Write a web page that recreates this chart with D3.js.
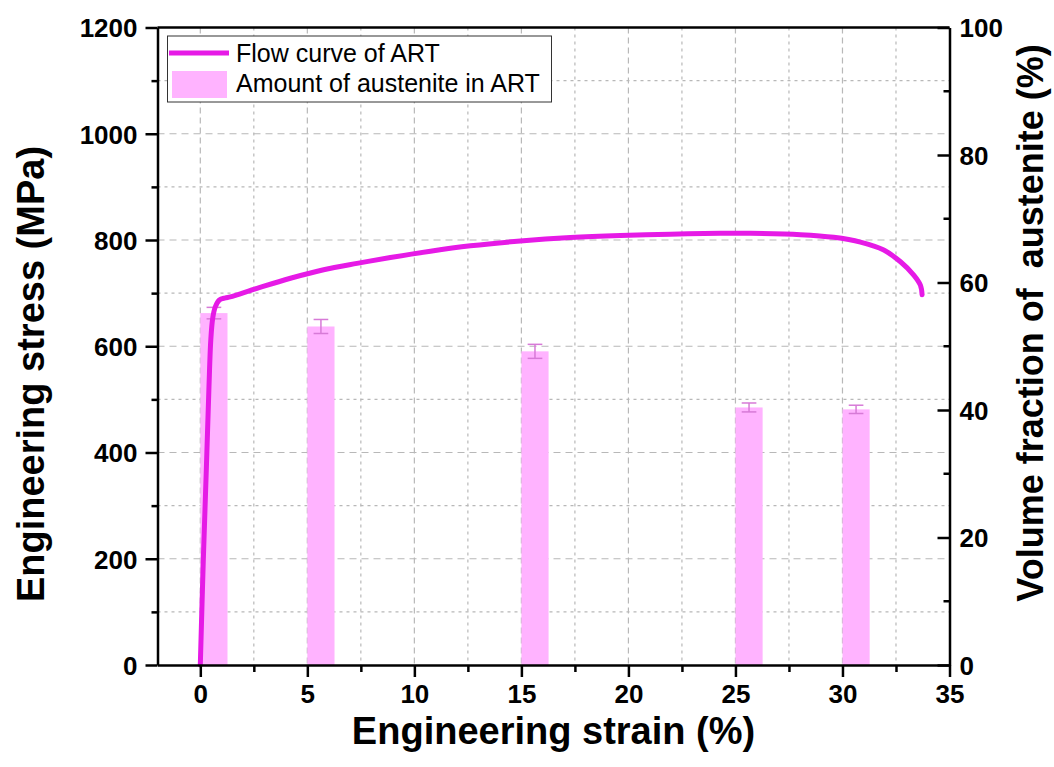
<!DOCTYPE html>
<html>
<head>
<meta charset="utf-8">
<script src="https://cdn.jsdelivr.net/npm/d3@7"></script>
<style>
  html, body { margin: 0; padding: 0; background: #fff; }
  svg { display: block; }
  text { font-family: Arial, "Liberation Sans", sans-serif; }
</style>
</head>
<body>
<svg id="chart" width="1054" height="767"></svg>
<script>
// Flow curve of the ART steel: engineering strain (%) vs engineering stress (MPa)
const flowStrain = [0, 0.14, 0.28, 0.40, 0.49, 0.58, 0.70, 0.89, 1.17, 1.40, 2.65, 4.21, 5.76, 7.32,
  8.88, 10.75, 12.62, 14.95, 17.29, 19.63, 21.96, 24.30, 25.70, 28.04, 29.59, 30.84, 31.93, 32.71,
  33.33, 33.64, 33.72];
const flowStress = [0, 198, 367, 518, 612, 653, 674, 687, 691, 693, 709, 728, 744, 756,
  767, 779, 789, 798, 804.5, 808.5, 811, 812.5, 812.5, 810, 805, 796, 781, 759,
  734, 715, 697];

// Retained austenite measured at interrupted strain levels
const austStrain = [0, 5, 15, 25, 30];
const austFraction = [55.2, 53.1, 49.2, 40.4, 40.1];
const austError = [0.9, 1.1, 1.1, 0.7, 0.65];

// Axis ticks
const xTicks = [0, 5, 10, 15, 20, 25, 30, 35];
const yLeftTicks = [0, 200, 400, 600, 800, 1000, 1200];
const yRightTicks = [0, 20, 40, 60, 80, 100];

const curveColor = "#e61ae6";
const barColor = "#ffb3ff";
const errColor = "#d77ad7";
const barWidthStrain = 1.27;

const svg = d3.select("#chart");
const m = { left: 157.5, right: 949.5, top: 27.5, bottom: 665 };

const x = d3.scaleLinear().domain([-2, 35]).range([m.left, m.right]);
const yL = d3.scaleLinear().domain([0, 1200]).range([m.bottom, m.top]);
const yR = d3.scaleLinear().domain([0, 100]).range([m.bottom, m.top]);

// Grid: major dashed, minor dotted
const grid = svg.append("g").attr("stroke", "#b8b8b8").attr("stroke-width", 1.2).attr("fill", "none");
d3.range(0, 35, 2.5).forEach(v => {
  grid.append("line")
    .attr("x1", x(v)).attr("x2", x(v)).attr("y1", m.top).attr("y2", m.bottom)
    .attr("stroke-dasharray", v % 5 === 0 ? "6,4" : "3,4");
});
d3.range(100, 1200, 100).forEach(v => {
  grid.append("line")
    .attr("x1", m.left).attr("x2", m.right).attr("y1", yL(v)).attr("y2", yL(v))
    .attr("stroke-dasharray", v % 200 === 0 ? "7,5" : "3,4");
});

// Austenite bars with error bars
const bars = svg.append("g");
bars.selectAll("rect").data(austStrain).join("rect")
  .attr("x", d => x(d))
  .attr("width", d => x(d + barWidthStrain) - x(d))
  .attr("y", (d, i) => yR(austFraction[i]))
  .attr("height", (d, i) => yR(0) - yR(austFraction[i]))
  .attr("fill", barColor);

const err = svg.append("g").attr("stroke", errColor).attr("stroke-width", 1.5);
austStrain.forEach((d, i) => {
  const cx = x(d + barWidthStrain / 2);
  const hi = yR(austFraction[i] + austError[i]);
  const lo = yR(austFraction[i] - austError[i]);
  const cap = (x(d + barWidthStrain) - x(d)) * 0.27;
  err.append("line").attr("x1", cx).attr("x2", cx).attr("y1", hi).attr("y2", lo);
  err.append("line").attr("x1", cx - cap).attr("x2", cx + cap).attr("y1", hi).attr("y2", hi);
  err.append("line").attr("x1", cx - cap).attr("x2", cx + cap).attr("y1", lo).attr("y2", lo);
});

// Flow curve
const line = d3.line()
  .x(d => x(d[0]))
  .y(d => yL(d[1]))
  .curve(d3.curveCatmullRom.alpha(0.5));
svg.append("path")
  .datum(flowStrain.map((s, i) => [s, flowStress[i]]))
  .attr("d", line)
  .attr("fill", "none")
  .attr("stroke", curveColor)
  .attr("stroke-width", 5)
  .attr("stroke-linejoin", "round")
  .attr("stroke-linecap", "round");

// Frame
const frame = svg.append("g").attr("stroke", "#000").attr("stroke-width", 2.5).attr("fill", "none");
frame.append("line").attr("x1", m.left).attr("x2", m.right).attr("y1", m.top).attr("y2", m.top);

// Axes
const tickFont = g => g.selectAll("text")
  .attr("font-size", 26).attr("font-weight", "bold").attr("fill", "#000")
  .attr("font-family", "Arial, 'Liberation Sans', sans-serif");
const axisStyle = g => {
  g.select(".domain").attr("stroke", "#000").attr("stroke-width", 2.5);
  g.selectAll(".tick line").attr("stroke", "#000").attr("stroke-width", 2.5);
};
const fmt = d3.format("d");

// bottom
const xAxis = svg.append("g").attr("transform", `translate(0,${m.bottom})`)
  .call(d3.axisBottom(x).tickValues(xTicks).tickFormat(fmt).tickSize(12).tickSizeOuter(0).tickPadding(8));
xAxis.call(axisStyle).call(tickFont);
svg.append("g").attr("transform", `translate(0,${m.bottom})`)
  .call(d3.axisBottom(x).tickValues(d3.range(2.5, 35, 5)).tickSize(7).tickFormat(""))
  .call(g => g.select(".domain").remove())
  .call(g => g.selectAll(".tick line").attr("stroke", "#000").attr("stroke-width", 2.5));

// left
const yAxisL = svg.append("g").attr("transform", `translate(${m.left},0)`)
  .call(d3.axisLeft(yL).tickValues(yLeftTicks).tickFormat(fmt).tickSize(12).tickSizeOuter(0).tickPadding(8));
yAxisL.call(axisStyle).call(tickFont);
yAxisL.selectAll(".tick text").attr("dy", "0.36em");
svg.append("g").attr("transform", `translate(${m.left},0)`)
  .call(d3.axisLeft(yL).tickValues(d3.range(100, 1200, 200)).tickSize(6).tickFormat(""))
  .call(g => g.select(".domain").remove())
  .call(g => g.selectAll(".tick line").attr("stroke", "#000").attr("stroke-width", 2.5));

// right (ticks point inward)
const yAxisR = svg.append("g").attr("transform", `translate(${m.right},0)`)
  .call(d3.axisRight(yR).tickValues(yRightTicks).tickFormat(fmt).tickSize(0).tickSizeOuter(0).tickPadding(10));
yAxisR.call(axisStyle).call(tickFont);
yAxisR.selectAll(".tick text").attr("dy", "0.36em");
yAxisR.selectAll(".tick").append("line")
  .attr("x1", 0).attr("x2", -12).attr("stroke", "#000").attr("stroke-width", 2.5);
svg.append("g").attr("transform", `translate(${m.right},0)`)
  .selectAll("line").data(d3.range(10, 100, 20)).join("line")
  .attr("x1", 0).attr("x2", -6).attr("y1", d => yR(d)).attr("y2", d => yR(d))
  .attr("stroke", "#000").attr("stroke-width", 2.5);

// Axis titles
svg.append("text")
  .attr("x", (m.left + m.right) / 2).attr("y", 744)
  .attr("text-anchor", "middle").attr("font-size", 38).attr("font-weight", "bold")
  .text("Engineering strain (%)");
svg.append("text")
  .attr("transform", "translate(44,374) rotate(-90)")
  .attr("text-anchor", "middle").attr("font-size", 38).attr("font-weight", "bold")
  .text("Engineering stress (MPa)");
svg.append("text")
  .attr("transform", "translate(1043,323) rotate(-90)")
  .attr("text-anchor", "middle").attr("font-size", 36).attr("font-weight", "bold")
  .style("white-space", "pre")
  .text("Volume fraction of  austenite (%)");

// Legend
const lg = svg.append("g");
lg.append("rect").attr("x", 167.5).attr("y", 36).attr("width", 384).attr("height", 66)
  .attr("fill", "#fff").attr("stroke", "#333").attr("stroke-width", 1);
lg.append("line").attr("x1", 169).attr("x2", 229).attr("y1", 53).attr("y2", 53)
  .attr("stroke", curveColor).attr("stroke-width", 5);
lg.append("rect").attr("x", 172).attr("y", 71).attr("width", 55).attr("height", 27).attr("fill", barColor);
lg.append("text").attr("x", 236).attr("y", 62).attr("font-size", 25).text("Flow curve of ART");
lg.append("text").attr("x", 236).attr("y", 92).attr("font-size", 25).text("Amount of austenite in ART");
</script>
</body>
</html>
